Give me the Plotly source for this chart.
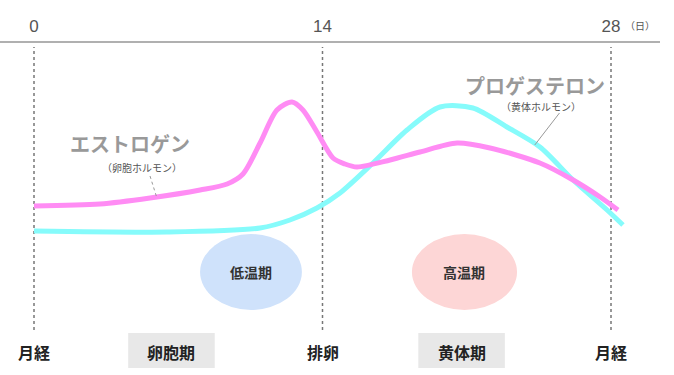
import plotly.graph_objects as go

# ---- data ----
estrogen_day = [0, 3.20, 5.63, 8.06, 9.37, 10.14, 10.97, 11.79, 12.52, 13.05, 13.73, 14.51, 15.09, 15.67,
                17.28, 18.73, 20.53, 22.13, 24.55, 26.16, 27.47, 28.34]
estrogen_level = [169, 171, 177, 185, 191, 201, 232, 265, 273, 265, 243, 217, 211, 208,
                  215, 223, 232, 227, 212, 195, 178, 165]
progesterone_day = [0, 6.45, 10.97, 12.42, 13.73, 14.85, 16.45, 18.10, 19.70, 21.30, 22.95, 24.55,
                    26.16, 27.81, 28.58]
progesterone_level = [144, 143, 147, 155, 167, 182, 212, 245, 268, 267, 248, 228, 195, 165, 150]

tick_days = [0, 14, 28]
tick_labels = ["0", "14", "28"]
cycle_marks = [0, 14, 28]
bottom_labels = ["月経", "卵胞期", "排卵", "黄体期", "月経"]
bottom_label_days = [0, 6.67, 14, 20.75, 28]
boxed_labels = ["卵胞期", "黄体期"]
phases = ["低温期", "高温期"]
phase_days = [(8.06, 13.0), (18.34, 23.44)]

FONT = "Noto Sans CJK JP"
fig = go.Figure()

fig.add_trace(go.Scatter(x=progesterone_day, y=progesterone_level, mode="lines",
                         line=dict(color="#86fbfb", width=5, shape="spline", smoothing=0.8),
                         hoverinfo="skip", showlegend=False))
fig.add_trace(go.Scatter(x=estrogen_day, y=estrogen_level, mode="lines",
                         line=dict(color="#ff8cf4", width=5, shape="spline", smoothing=0.8),
                         hoverinfo="skip", showlegend=False))

# dotted cycle lines
for d in cycle_marks:
    fig.add_shape(type="line", x0=d, x1=d, y0=45, y1=328, layer="below",
                  line=dict(color="#777", width=1.5, dash="dot"))

# phase ellipses
fills = ["#cfe2fb", "#fdd6d6"]
for (a, b), name, col in zip(phase_days, phases, fills):
    fig.add_shape(type="circle", x0=a, x1=b, y0=65, y1=141, layer="below",
                  fillcolor=col, line=dict(width=0))
    fig.add_annotation(x=(a + b) / 2, y=103, text="<b>" + name + "</b>", showarrow=False,
                       font=dict(family=FONT, size=14, color="#333"))

# bottom labels
for name, d in zip(bottom_labels, bottom_label_days):
    if name in boxed_labels:
        fig.add_shape(type="rect", x0=d - 2.1, x1=d + 2.1, y0=7, y1=42, layer="below",
                      fillcolor="#e8e8e8", line=dict(width=0))
    fig.add_annotation(x=d, y=23, text="<b>" + name + "</b>", showarrow=False,
                       font=dict(family=FONT, size=16, color="#222"))

# hormone labels
fig.add_annotation(x=4.65, y=232, text="<b>エストロゲン</b>", showarrow=False,
                   font=dict(family=FONT, size=20, color="#999999"))
fig.add_annotation(x=5.25, y=208, text="（卵胞ホルモン）", showarrow=False,
                   font=dict(family=FONT, size=10, color="#555"))
fig.add_shape(type="line", x0=5.63, x1=5.95, y0=199, y1=178,
              line=dict(color="#999", width=1, dash="dot"))
fig.add_annotation(x=24.3, y=290, text="<b>プロゲステロン</b>", showarrow=False,
                   font=dict(family=FONT, size=20, color="#999999"))
fig.add_annotation(x=24.6, y=269, text="（黄体ホルモン）", showarrow=False,
                   font=dict(family=FONT, size=10, color="#555"))
fig.add_shape(type="line", x0=25.5, x1=24.3, y0=262, y1=230,
              line=dict(color="#999", width=1))

fig.add_annotation(x=29.4, y=1.054, yref="paper", yanchor="middle", text="（日）", showarrow=False,
                   font=dict(family=FONT, size=10, color="#555"))

fig.update_layout(
    width=674, height=375,
    margin=dict(l=0, r=14, t=43, b=0),
    paper_bgcolor="white", plot_bgcolor="white",
    xaxis=dict(range=[-1.650, 30.378], side="top", tickvals=tick_days, ticktext=tick_labels,
               showline=True, linecolor="#b0b0b0", linewidth=2, showgrid=False, zeroline=False,
               ticks="", ticklabelstandoff=2,
               tickfont=dict(family="Liberation Sans", size=17, color="#555")),
    yaxis=dict(range=[0, 332], visible=False),
)

fig.write_html("out.html", config={"displayModeBar": False},
               post_script="document.body.style.margin='0px';")
